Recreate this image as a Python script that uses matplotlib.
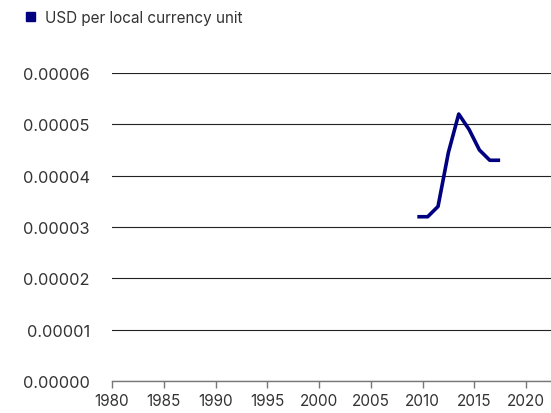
import matplotlib
matplotlib.use("Agg")
import matplotlib.pyplot as plt
from matplotlib.patches import Rectangle

plt.rcParams['font.family'] = ['Inter', 'DejaVu Sans']

years = [2009.5, 2010.5, 2011.5, 2012.5, 2013.5, 2014.5, 2015.5, 2016.5, 2017.5]
usd_per_unit = [0.000032, 0.000032, 0.000034, 0.0000445, 0.000052, 0.000049, 0.000045, 0.000043, 0.000043]
x_ticks = [1980, 1985, 1990, 1995, 2000, 2005, 2010, 2015, 2020]
y_ticks = [0, 0.00001, 0.00002, 0.00003, 0.00004, 0.00005, 0.00006]
series_name = "USD per local currency unit"

line_color = "#000080"
text_color = "#333333"

fig = plt.figure(figsize=(5.51, 4.14), dpi=100)
ax = fig.add_axes([112 / 551, 1 - 382 / 414, 1 - 112 / 551, (382 - 74) / 414])

ax.plot(years, usd_per_unit, color=line_color, lw=2.6, solid_joinstyle='round', solid_capstyle='butt', zorder=3)

ax.set_xlim(1980, 1980 + (551 - 112) / 10.35)
ax.set_ylim(0, 0.00006)
ax.set_xticks(x_ticks)
ax.set_yticks(y_ticks)
ax.set_yticklabels([f"{v:.5f}" for v in y_ticks])

ax.grid(axis='y', color='#222222', lw=0.8)
ax.set_axisbelow(True)
for s in ['top', 'right', 'left']:
    ax.spines[s].set_visible(False)
ax.spines['bottom'].set_color('#777777')
ax.spines['bottom'].set_linewidth(1.0)
ax.tick_params(axis='y', length=0, pad=16, labelsize=11.8, labelcolor=text_color)
ax.tick_params(axis='x', length=5, width=1, color='#777777', pad=4, labelsize=11, labelcolor=text_color)

# legend
fig.patches.append(Rectangle((26 / 551, 1 - 22 / 414), 9 / 551, 9 / 414,
                             transform=fig.transFigure, color=line_color))
fig.text(45 / 551, 1 - 18 / 414, series_name, fontsize=11, color=text_color, va='center', ha='left')

fig.savefig("out.png", dpi=100)
